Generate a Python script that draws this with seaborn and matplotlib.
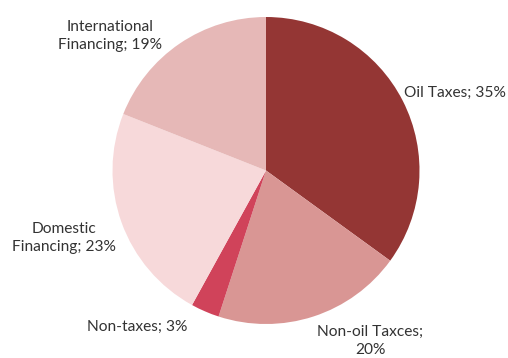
import matplotlib
matplotlib.use("Agg")
import matplotlib.pyplot as plt
import seaborn as sns

# Budget revenue sources (share of total, %)
categories = ["Oil Taxes", "Non-oil Taxces", "Non-taxes", "Domestic Financing", "International Financing"]
shares = [35, 20, 3, 23, 19]
labels = ["Oil Taxes; 35%", "Non-oil Taxces;\n20%", "Non-taxes; 3%", "Domestic\nFinancing; 23%", "International\nFinancing; 19%"]
colors = ["#943634", "#D99694", "#D0435A", "#F7D9DA", "#E6B8B7"]

sns.set_theme(style="white")
plt.rcParams["font.family"] = ["Lato", "DejaVu Sans"]

W, H = 508, 358
fig = plt.figure(figsize=(W / 100, H / 100), dpi=100)
ax = fig.add_axes([0, 0, 1, 1])

cx, cy, r = 266, H - 170.5, 153.5
ax.pie(shares, colors=colors, startangle=90, counterclock=False,
       center=(cx, cy), radius=r, frame=True,
       wedgeprops=dict(linewidth=0))
ax.set_xlim(0, W)
ax.set_ylim(0, H)
ax.set_aspect("equal")
ax.axis("off")

# label anchor points (pixel coords from top-left)
label_pos = [(404, 93, "left"), (370, 341, "center"), (137, 327, "center"),
             (64, 238, "center"), (110, 36, "center")]
for text, (x, y, ha) in zip(labels, label_pos):
    ax.text(x, H - y, text, ha=ha, va="center", fontsize=11.2,
            color="#333333", linespacing=1.3)

fig.savefig("out.png", dpi=100)
